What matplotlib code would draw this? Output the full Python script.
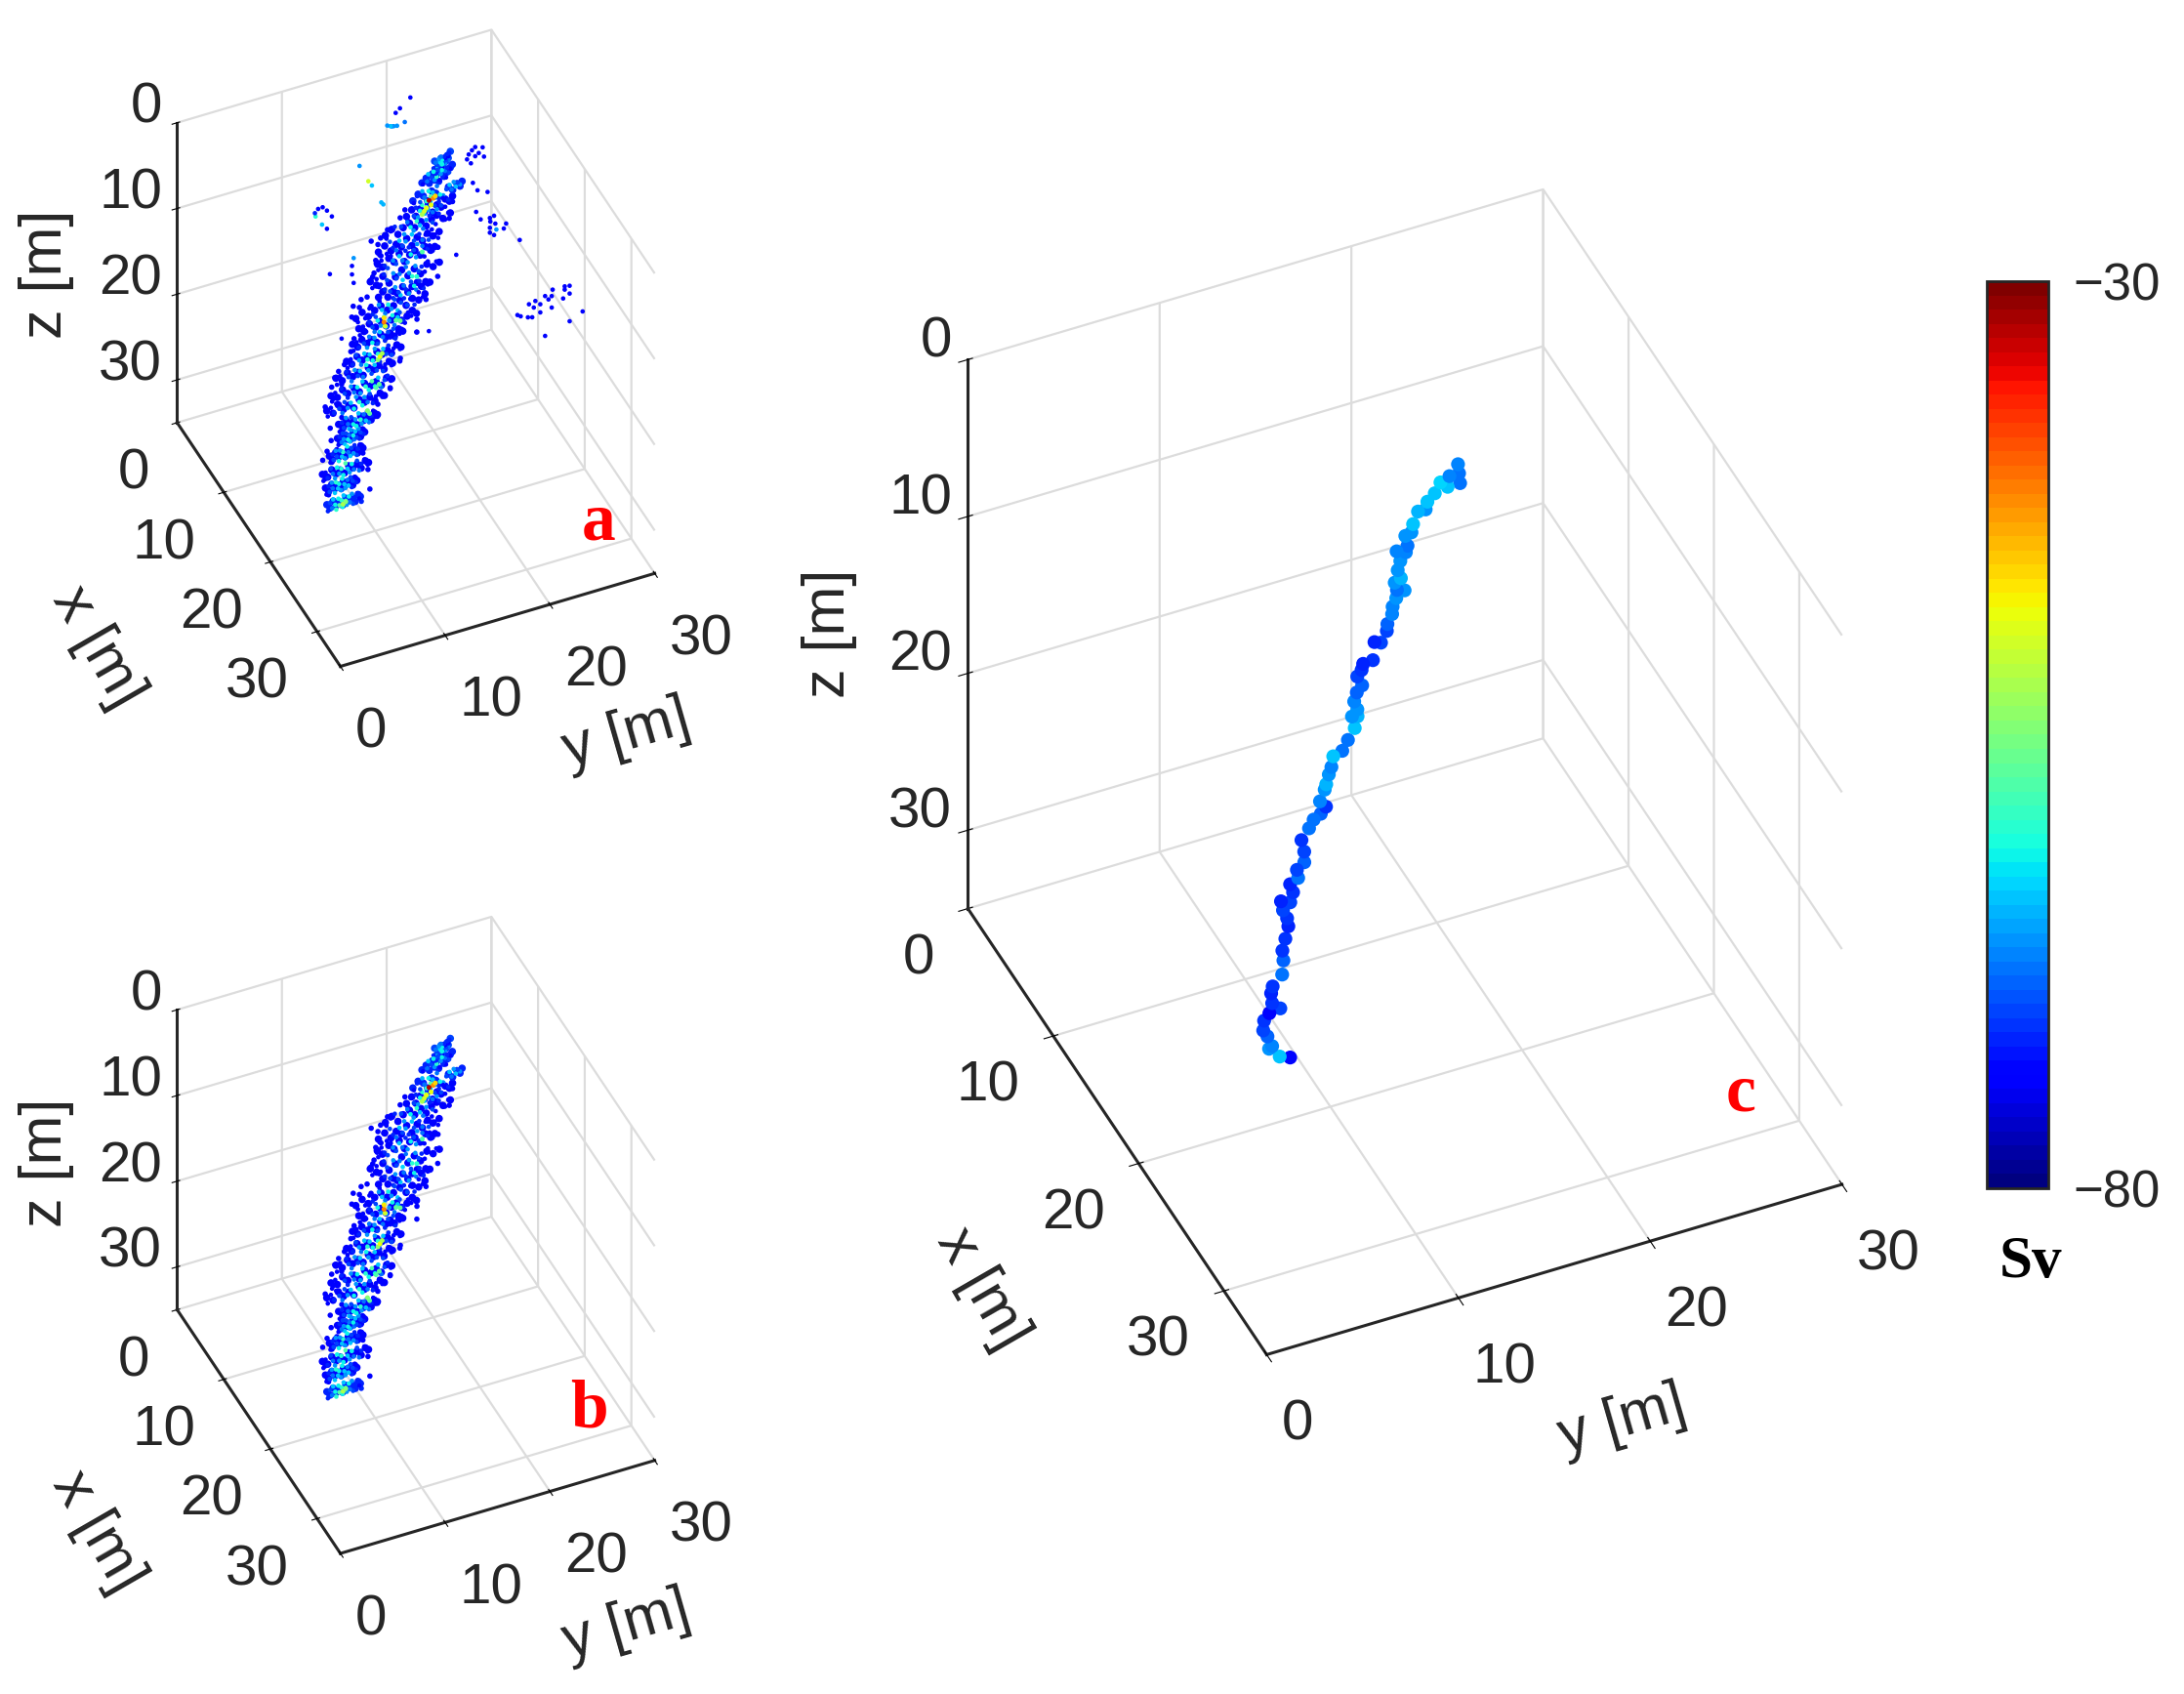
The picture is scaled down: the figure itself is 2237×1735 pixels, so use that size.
import numpy as np
import matplotlib
matplotlib.use('Agg')
import matplotlib.pyplot as plt
from matplotlib.cm import ScalarMappable
from matplotlib.colors import Normalize

# echo school, depth bands
band_x = [12.3, 12.5, 12.8, 13.0, 13.2, 13.5, 13.7, 14.0, 14.2, 14.5, 14.7,
          14.9, 15.2, 15.4, 15.7, 15.9, 16.2, 16.4, 16.7, 17.0, 17.2, 17.5]
cloud_y = [
    [19.0, 19.2, 19.3, 19.4, 19.5, 19.5, 19.6, 19.7, 19.7, 19.8, 19.8, 19.9, 20.0, 20.1, 20.1, 20.2, 20.3, 20.4, 20.5, 20.4],
    [17.9, 18.1, 18.3, 18.4, 18.6, 18.7, 18.9, 19.0, 19.1, 19.2, 19.3, 19.5, 19.6, 19.7, 19.8, 20.0, 20.1, 20.2, 20.4, 20.5],
    [16.9, 17.2, 17.5, 17.7, 17.9, 18.1, 18.3, 18.5, 18.7, 18.9, 19.1, 19.4, 19.7, 20.0, 20.3, 20.5, 20.7, 20.9, 21.1, 21.3],
    [16.2, 16.5, 16.8, 17.0, 17.2, 17.4, 17.6, 17.8, 18.0, 18.2, 18.4, 18.6, 18.8, 19.0, 19.2, 19.4, 19.6, 19.8, 20.1, 20.4],
    [14.1, 14.5, 14.9, 15.2, 15.5, 15.8, 16.1, 16.4, 16.7, 17.0, 17.3, 17.6, 17.9, 18.2, 18.5, 18.8, 19.1, 19.4, 19.7, 20.0],
    [13.3, 13.7, 14.0, 14.3, 14.6, 14.9, 15.2, 15.5, 15.8, 16.1, 16.4, 16.6, 16.9, 17.1, 17.4, 17.7, 18.0, 18.3, 18.6, 18.9],
    [13.1, 13.4, 13.7, 14.0, 14.3, 14.5, 14.8, 15.1, 15.4, 15.7, 15.9, 16.2, 16.5, 16.7, 17.0, 17.3, 17.5, 17.8, 18.0, 18.3],
    [12.4, 12.8, 13.2, 13.5, 13.8, 14.1, 14.4, 14.7, 15.0, 15.3, 15.6, 15.9, 16.2, 16.5, 16.8, 17.1, 17.4, 17.7, 18.1, 18.5],
    [13.0, 13.3, 13.5, 13.8, 14.0, 14.3, 14.5, 14.8, 15.0, 15.3, 15.5, 15.8, 16.0, 16.3, 16.5, 16.8, 17.0, 17.2, 17.4, 17.6],
    [10.8, 11.2, 11.5, 11.9, 12.2, 12.5, 12.8, 13.1, 13.4, 13.7, 14.0, 14.3, 14.6, 14.9, 15.2, 15.5, 15.8, 16.2, 16.6, 17.0],
    [10.9, 11.2, 11.5, 11.8, 12.1, 12.3, 12.6, 12.9, 13.2, 13.4, 13.7, 14.0, 14.2, 14.5, 14.7, 15.0, 15.2, 15.5, 15.8, 16.1],
    [10.2, 10.5, 10.7, 11.0, 11.2, 11.5, 11.7, 12.0, 12.2, 12.5, 12.7, 13.0, 13.2, 13.5, 13.7, 14.0, 14.2, 14.4, 14.6, 14.8],
    [9.5, 9.8, 10.0, 10.3, 10.6, 10.8, 11.1, 11.4, 11.6, 11.9, 12.1, 12.4, 12.6, 12.9, 13.2, 13.4, 13.7, 13.9, 14.2, 14.5],
    [8.4, 8.7, 9.0, 9.3, 9.5, 9.8, 10.1, 10.4, 10.6, 10.9, 11.2, 11.4, 11.7, 12.0, 12.2, 12.5, 12.8, 13.0, 13.3, 13.6],
    [7.8, 8.1, 8.4, 8.7, 9.0, 9.3, 9.6, 9.9, 10.2, 10.5, 10.7, 11.0, 11.3, 11.6, 11.9, 12.2, 12.5, 12.8, 13.1, 13.4],
    [7.3, 7.6, 7.9, 8.1, 8.4, 8.7, 8.9, 9.2, 9.5, 9.8, 10.0, 10.3, 10.6, 10.8, 11.1, 11.3, 11.6, 11.9, 12.2, 12.5],
    [8.3, 8.5, 8.7, 8.9, 9.1, 9.2, 9.4, 9.6, 9.8, 9.9, 10.1, 10.3, 10.4, 10.6, 10.8, 10.9, 11.1, 11.3, 11.5, 11.7],
    [8.1, 8.2, 8.4, 8.5, 8.6, 8.7, 8.8, 9.0, 9.1, 9.2, 9.3, 9.5, 9.6, 9.7, 9.8, 10.0, 10.1, 10.2, 10.4, 10.5],
    [7.2, 7.4, 7.5, 7.7, 7.8, 8.0, 8.1, 8.3, 8.4, 8.6, 8.8, 8.9, 9.1, 9.2, 9.4, 9.5, 9.7, 9.8, 10.0, 10.2],
    [6.4, 6.6, 6.8, 7.1, 7.3, 7.5, 7.7, 7.9, 8.1, 8.3, 8.5, 8.7, 8.9, 9.1, 9.3, 9.6, 9.8, 10.0, 10.3, 10.6],
    [6.6, 6.8, 6.9, 7.1, 7.2, 7.4, 7.5, 7.7, 7.8, 8.0, 8.1, 8.3, 8.4, 8.6, 8.7, 8.9, 9.0, 9.1, 9.3, 9.4],
    [6.6, 6.8, 7.0, 7.1, 7.3, 7.4, 7.6, 7.7, 7.9, 8.0, 8.1, 8.3, 8.4, 8.6, 8.7, 8.9, 9.0, 9.2, 9.4, 9.6],
]
cloud_z = [
    [2.2, 1.6, 2.4, 1.9, 1.3, 2.5, 1.7, 2.1, 1.1, 2.4, 1.5, 1.9, 1.2, 2.0, 1.4, 1.7, 1.0, 1.3, 0.9, 1.7],
    [3.5, 2.8, 3.3, 2.5, 3.7, 3.0, 2.4, 3.4, 2.7, 3.1, 2.3, 3.6, 2.9, 2.5, 3.2, 2.7, 3.5, 2.4, 3.0, 2.6],
    [5.1, 4.4, 5.2, 4.0, 4.8, 5.3, 4.2, 4.9, 4.5, 5.2, 3.9, 5.0, 5.2, 4.6, 4.2, 4.8, 4.0, 4.6, 4.2, 4.5],
    [6.6, 5.7, 6.4, 5.5, 6.7, 6.0, 5.4, 6.5, 5.8, 6.2, 5.3, 6.6, 5.9, 6.4, 5.6, 6.1, 5.3, 6.4, 5.7, 5.5],
    [7.9, 7.2, 6.8, 7.7, 7.0, 8.0, 6.7, 7.4, 7.9, 6.9, 7.5, 8.0, 7.1, 6.7, 7.6, 7.9, 6.8, 7.3, 7.7, 7.0],
    [9.3, 8.4, 9.4, 8.1, 8.9, 9.3, 8.3, 9.0, 8.6, 9.4, 8.0, 8.8, 9.3, 8.2, 9.0, 8.5, 9.2, 8.1, 8.8, 9.3],
    [10.8, 9.8, 10.5, 10.9, 9.6, 10.2, 10.7, 9.9, 10.5, 9.5, 10.9, 10.1, 9.7, 10.6, 10.3, 9.5, 10.8, 10.0, 9.7, 10.4],
    [12.4, 11.5, 12.3, 11.2, 12.0, 12.5, 11.4, 12.1, 11.7, 12.5, 11.1, 11.9, 12.4, 11.3, 12.0, 11.6, 12.3, 11.2, 11.9, 11.5],
    [14.0, 13.1, 12.8, 13.8, 13.2, 14.1, 12.9, 13.6, 14.0, 13.0, 13.5, 14.1, 12.8, 13.4, 13.9, 13.0, 13.6, 14.0, 13.2, 13.7],
    [15.4, 14.5, 15.2, 14.2, 15.0, 15.4, 14.1, 14.8, 15.3, 14.4, 15.0, 14.0, 15.4, 14.6, 14.2, 15.1, 14.5, 15.3, 14.0, 14.7],
    [16.8, 15.9, 16.6, 15.6, 16.3, 16.9, 15.7, 16.4, 15.5, 16.7, 16.1, 15.6, 16.8, 16.0, 15.5, 16.5, 16.9, 15.8, 16.3, 15.9],
    [18.2, 17.3, 18.0, 17.0, 17.7, 18.3, 17.1, 17.9, 17.4, 18.2, 16.9, 17.6, 18.1, 17.2, 17.9, 17.0, 18.2, 17.5, 17.8, 17.3],
    [19.7, 18.8, 19.5, 18.5, 19.2, 19.8, 18.6, 19.4, 18.9, 19.7, 18.4, 19.1, 19.6, 18.7, 19.4, 18.5, 19.7, 19.0, 18.6, 19.3],
    [21.1, 20.2, 20.9, 19.9, 20.6, 21.2, 20.0, 20.8, 20.3, 21.1, 19.8, 20.5, 21.0, 20.1, 20.8, 19.9, 21.1, 20.4, 20.0, 20.7],
    [22.6, 21.7, 22.4, 21.4, 22.1, 22.7, 21.5, 22.3, 21.8, 22.6, 21.3, 22.0, 22.5, 21.6, 22.3, 21.4, 22.6, 21.9, 21.5, 22.2],
    [24.0, 23.1, 23.8, 22.8, 23.5, 24.1, 22.9, 23.7, 23.2, 24.0, 22.7, 23.4, 23.9, 23.0, 23.7, 22.8, 24.0, 23.3, 22.9, 23.6],
    [25.9, 24.9, 25.6, 24.5, 25.3, 25.9, 24.6, 25.5, 25.0, 25.8, 24.4, 25.2, 25.7, 24.7, 25.5, 24.5, 25.8, 25.1, 24.6, 25.4],
    [27.2, 26.3, 27.0, 26.0, 26.7, 27.3, 26.1, 26.9, 26.4, 27.2, 25.9, 26.6, 27.1, 26.2, 26.9, 26.0, 27.2, 26.5, 26.1, 26.8],
    [28.7, 27.8, 28.5, 27.5, 28.2, 28.8, 27.6, 28.4, 27.9, 28.7, 27.4, 28.1, 28.6, 27.7, 28.4, 27.5, 28.7, 28.0, 27.6, 28.3],
    [30.3, 29.4, 30.1, 29.1, 29.8, 30.4, 29.2, 30.0, 29.5, 30.3, 29.0, 29.7, 30.2, 29.3, 30.0, 29.1, 30.3, 29.6, 29.2, 29.9],
    [31.8, 30.9, 31.6, 30.6, 31.3, 31.9, 30.7, 31.5, 31.0, 31.8, 30.5, 31.2, 31.7, 30.8, 31.5, 30.6, 31.8, 31.1, 30.7, 31.4],
    [33.5, 32.6, 33.3, 32.3, 33.0, 33.6, 32.4, 33.2, 32.7, 33.5, 32.2, 32.9, 33.4, 32.5, 33.2, 32.3, 33.5, 32.8, 32.4, 33.1],
]
cloud_sv = [
    [-72, -68, -62, -70, -66, -72, -63, -70, -68, -73, -62, -70, -72, -66, -73, -70, -72, -73, -72, -68],
    [-73, -72, -68, -64, -72, -70, -62, -66, -72, -60, -70, -73, -66, -62, -72, -68, -73, -72, -70, -73],
    [-73, -72, -70, -65, -68, -60, -62, -58, -64, -66, -68, -62, -66, -70, -64, -68, -66, -64, -70, -66],
    [-73, -73, -70, -72, -66, -62, -60, -64, -62, -66, -64, -68, -70, -66, -72, -70, -73, -73, -72, -73],
    [-74, -73, -72, -73, -70, -66, -68, -62, -66, -60, -64, -68, -66, -72, -70, -73, -72, -73, -74, -73],
    [-74, -73, -73, -70, -72, -68, -64, -70, -66, -72, -64, -70, -66, -72, -68, -73, -70, -73, -74, -73],
    [-74, -73, -72, -70, -73, -66, -70, -64, -68, -72, -66, -62, -70, -66, -72, -68, -73, -72, -74, -73],
    [-74, -74, -73, -72, -70, -73, -66, -70, -68, -63, -68, -66, -60, -66, -70, -72, -73, -73, -74, -74],
    [-74, -73, -72, -73, -70, -72, -66, -70, -64, -68, -72, -66, -70, -62, -68, -72, -73, -72, -74, -73],
    [-74, -74, -73, -73, -72, -70, -66, -64, -68, -62, -66, -70, -64, -70, -72, -70, -73, -72, -74, -74],
    [-74, -73, -73, -72, -70, -68, -62, -66, -60, -64, -66, -62, -68, -64, -70, -72, -73, -73, -74, -73],
    [-74, -73, -72, -73, -70, -66, -68, -62, -66, -70, -64, -68, -72, -70, -73, -70, -72, -73, -74, -73],
    [-74, -73, -72, -70, -66, -68, -64, -60, -64, -62, -66, -60, -68, -64, -70, -72, -70, -73, -74, -73],
    [-74, -74, -73, -72, -70, -68, -66, -70, -64, -68, -62, -66, -70, -64, -70, -72, -70, -73, -74, -73],
    [-74, -73, -73, -72, -70, -72, -66, -68, -62, -66, -64, -60, -62, -58, -62, -64, -68, -70, -72, -73],
    [-74, -73, -72, -73, -70, -68, -70, -66, -64, -62, -66, -60, -62, -66, -68, -70, -72, -73, -74, -73],
    [-74, -72, -70, -66, -68, -64, -70, -62, -66, -62, -64, -60, -66, -68, -64, -70, -68, -72, -73, -73],
    [-73, -72, -68, -70, -66, -64, -70, -62, -68, -64, -66, -62, -68, -64, -70, -66, -72, -70, -73, -72],
    [-73, -72, -70, -66, -70, -62, -66, -64, -60, -66, -62, -68, -64, -70, -66, -72, -70, -72, -73, -73],
    [-74, -73, -72, -70, -68, -66, -62, -66, -60, -62, -58, -64, -66, -62, -68, -70, -68, -72, -73, -73],
    [-73, -72, -70, -66, -68, -64, -60, -64, -62, -66, -62, -64, -66, -68, -64, -70, -72, -70, -73, -72],
    [-72, -70, -68, -64, -62, -60, -62, -58, -60, -62, -64, -60, -66, -62, -68, -66, -70, -72, -72, -73],
]

# weaker echoes filling the body of the school, one level per band
fill_y = [
    [19.1, 19.3, 19.4, 19.6, 19.7, 19.8, 19.9, 20.0, 20.2, 20.3, 20.4, 20.6],
    [17.8, 18.2, 18.5, 18.8, 19.0, 19.2, 19.4, 19.7, 19.9, 20.2, 20.5, 20.7],
    [16.8, 17.3, 17.8, 18.2, 18.6, 19.0, 19.3, 20.2, 20.6, 21.0, 21.3, 21.5],
    [16.1, 16.6, 17.0, 17.4, 17.8, 18.2, 18.6, 19.0, 19.4, 19.8, 20.2, 20.5],
    [14.0, 14.6, 15.2, 15.7, 16.3, 16.8, 17.4, 17.9, 18.4, 18.9, 19.5, 20.2],
    [13.2, 13.8, 14.4, 14.9, 15.4, 15.9, 16.4, 16.9, 17.4, 17.9, 18.4, 19.0],
    [13.0, 13.5, 14.1, 14.6, 15.1, 15.6, 16.1, 16.6, 17.1, 17.6, 18.1, 18.5],
    [12.2, 12.8, 13.4, 14.0, 14.6, 15.2, 15.8, 16.4, 17.0, 17.6, 18.2, 18.8],
    [12.9, 13.3, 13.8, 14.3, 14.7, 15.2, 15.7, 16.1, 16.6, 17.0, 17.4, 17.8],
    [10.6, 11.2, 11.8, 12.4, 13.0, 13.6, 14.2, 14.8, 15.4, 16.0, 16.6, 17.2],
    [10.8, 11.3, 11.8, 12.4, 12.9, 13.4, 13.9, 14.4, 14.9, 15.4, 15.9, 16.3],
    [10.1, 10.6, 11.0, 11.5, 11.9, 12.4, 12.8, 13.3, 13.7, 14.1, 14.5, 14.9],
    [9.4, 9.9, 10.4, 10.9, 11.4, 11.9, 12.3, 12.8, 13.3, 13.7, 14.2, 14.6],
    [8.3, 8.9, 9.4, 9.9, 10.4, 10.9, 11.4, 11.9, 12.4, 12.9, 13.4, 13.7],
    [7.7, 8.3, 8.8, 9.3, 9.9, 10.4, 10.9, 11.5, 12.0, 12.5, 13.0, 13.5],
    [7.2, 7.8, 8.3, 8.8, 9.3, 9.8, 10.3, 10.8, 11.3, 11.8, 12.3, 12.7],
    [8.2, 8.6, 8.9, 9.3, 9.6, 10.0, 10.3, 10.6, 11.0, 11.3, 11.6, 11.9],
    [8.0, 8.3, 8.5, 8.8, 9.0, 9.2, 9.5, 9.7, 9.9, 10.2, 10.4, 10.6],
    [7.1, 7.4, 7.7, 8.0, 8.3, 8.6, 8.9, 9.2, 9.5, 9.8, 10.1, 10.3],
    [6.3, 6.8, 7.2, 7.6, 8.0, 8.4, 8.8, 9.2, 9.6, 10.0, 10.4, 10.7],
    [6.5, 6.8, 7.1, 7.4, 7.7, 8.0, 8.2, 8.5, 8.8, 9.1, 9.3, 9.5],
    [6.5, 6.8, 7.1, 7.4, 7.7, 8.0, 8.3, 8.6, 8.9, 9.2, 9.5, 9.7],
]
fill_z = [
    [1.4, 2.3, 1.8, 2.4, 1.3, 1.9, 2.2, 1.5, 1.8, 1.2, 1.5, 0.8],
    [3.3, 2.9, 3.6, 2.6, 3.4, 2.8, 3.7, 2.6, 3.3, 2.9, 2.5, 2.2],
    [4.8, 4.2, 4.6, 5.3, 4.3, 4.7, 5.2, 4.4, 4.9, 4.3, 4.7, 4.2],
    [6.2, 5.6, 6.5, 5.8, 6.3, 5.5, 6.6, 5.9, 6.3, 5.5, 5.9, 5.4],
    [7.5, 7.0, 7.8, 7.2, 6.9, 7.6, 7.1, 7.8, 7.2, 6.9, 7.5, 7.1],
    [8.9, 8.4, 9.2, 8.6, 9.1, 8.3, 9.3, 8.5, 9.1, 8.4, 8.9, 8.6],
    [10.0, 10.6, 9.8, 10.4, 9.6, 10.7, 10.1, 9.8, 10.5, 9.7, 10.3, 10.0],
    [11.6, 12.2, 11.4, 12.4, 11.9, 11.3, 12.2, 11.6, 12.4, 11.5, 12.0, 11.7],
    [13.5, 13.0, 13.8, 13.3, 13.7, 13.1, 13.9, 13.4, 13.1, 13.7, 13.3, 13.5],
    [14.9, 14.4, 15.1, 14.6, 14.3, 15.0, 14.7, 14.3, 15.1, 14.5, 14.9, 14.4],
    [16.0, 16.5, 15.8, 16.4, 15.9, 16.6, 16.1, 15.8, 16.5, 16.2, 15.7, 16.2],
    [17.4, 17.9, 17.2, 17.8, 17.5, 18.0, 17.2, 17.7, 17.4, 17.9, 17.2, 17.6],
    [18.9, 19.4, 18.7, 19.3, 19.0, 19.5, 18.8, 19.3, 19.0, 19.5, 18.7, 19.1],
    [20.3, 20.8, 20.1, 20.7, 20.4, 20.9, 20.2, 20.6, 20.3, 20.9, 20.2, 20.5],
    [21.9, 22.3, 21.6, 22.2, 21.8, 22.4, 21.6, 22.1, 21.8, 22.4, 21.7, 22.0],
    [23.3, 23.8, 23.0, 23.7, 23.4, 23.9, 23.1, 23.6, 23.2, 23.8, 23.1, 23.5],
    [25.0, 25.6, 24.8, 25.4, 25.1, 25.7, 24.8, 25.4, 25.0, 25.6, 24.9, 25.2],
    [26.4, 26.9, 26.2, 26.8, 26.5, 27.0, 26.3, 26.8, 26.5, 27.0, 26.3, 26.6],
    [27.9, 28.4, 27.7, 28.3, 28.0, 28.5, 27.8, 28.2, 28.0, 28.5, 27.8, 28.1],
    [29.5, 30.0, 29.3, 29.9, 29.6, 30.1, 29.4, 29.8, 29.5, 30.1, 29.4, 29.7],
    [31.0, 31.5, 30.8, 31.4, 31.1, 31.6, 30.9, 31.3, 31.0, 31.6, 30.9, 31.2],
    [32.7, 33.2, 32.5, 33.1, 32.8, 33.3, 32.6, 33.0, 32.7, 33.3, 32.6, 32.9],
]
fill_sv = [-70, -72, -72, -73, -74, -74, -74, -74, -74, -74, -74,
           -74, -74, -74, -74, -74, -73, -73, -73, -74, -73, -72]

# stragglers and the outline of the school, left side then right side
edge_x = [13.3, 13.6, 13.9, 14.1, 14.2, 14.3, 14.4, 14.3, 14.2, 15.8, 16.2, 16.4, 16.6, 16.7, 17.4, 16.0, 15.8,
          12.9, 13.0, 13.2, 13.3, 13.4, 13.6, 13.7, 13.8, 13.9, 14.2, 14.4, 14.5, 14.7, 14.8, 15.0, 15.2,
          15.3, 15.4, 15.5, 15.5, 15.7, 15.9, 16.1, 16.2, 16.4, 16.6, 16.8, 17.0, 17.3, 17.5,
          13.0, 13.3, 13.7, 14.2, 14.5, 14.8, 15.0, 15.4, 15.4, 15.8, 16.2, 16.8, 17.1, 17.6]
edge_y = [12.6, 12.9, 12.48, 13.0, 11.24, 10.44, 10.26, 11.03, 11.81, 7.1, 7.4, 7.4, 6.92, 6.46, 10.65, 12.03, 13.3,
          16.0, 15.5, 14.2, 13.5, 13.2, 13.4, 13.0, 12.65, 12.3, 13.4, 12.1, 11.7, 10.9, 10.3, 9.9, 9.2,
          8.6, 8.2, 8.8, 7.85, 7.9, 8.6, 8.55, 8.8, 8.85, 7.85, 7.3, 6.56, 6.75, 7.3,
          20.5, 20.05, 18.8, 18.55, 17.3, 16.3, 16.2, 14.45, 14.4, 13.3, 11.9, 10.25, 10.6, 9.74]
edge_z = [7.57, 9.68, 11.2, 12.37, 13.16, 13.57, 14.69, 13.93, 13.07, 22.9, 25.16, 26.44, 27.36, 28.15, 32.46, 24.2, 23.0,
          5.47, 6.14, 6.9, 7.53, 8.1, 9.33, 10.2, 10.9, 11.5, 13.0, 14.1, 15.0, 16.05, 16.9, 18.1, 19.2,
          19.7, 20.2, 21.1, 21.1, 22.3, 23.4, 24.4, 25.4, 26.5, 27.5, 28.6, 30.1, 31.8, 32.8,
          6.05, 7.6, 10.2, 13.1, 15.1, 16.8, 18.1, 20.2, 20.5, 22.9, 25.4, 28.6, 30.4, 33.4]
edge_sv = [-74, -74, -74, -73, -74, -74, -74, -74, -73, -74, -74, -74, -74, -74, -74, -74, -74,
           -74, -74, -73, -74, -74, -73, -74, -74, -74, -73, -74, -74, -74, -74, -73, -74,
           -74, -74, -73, -74, -74, -73, -74, -74, -73, -74, -74, -74, -73, -72,
           -73, -74, -74, -73, -74, -74, -73, -74, -74, -74, -73, -74, -74, -72]

# strongest echoes inside the school
hot_x = [12.9, 12.9, 12.9, 13.0, 13.0, 13.0, 13.1, 14.7, 14.7, 14.7, 14.8, 14.8, 15.2, 15.2, 15.2,
         15.7, 15.7, 16.1, 16.1, 17.5, 17.5, 14.1, 13.7, 12.3]
hot_y = [18.7, 18.3, 18.9, 17.8, 17.6, 18.0, 18.4, 13.2, 13.2, 13.3, 14.7, 14.3, 12.6, 12.4, 12.8,
         12.3, 12.0, 11.0, 11.2, 8.05, 8.3, 16.6, 17.3, 19.8]
hot_z = [5.1, 5.2, 4.9, 6.2, 6.5, 5.9, 5.6, 16.1, 15.6, 16.6, 16.4, 16.2, 19.5, 19.8, 19.2,
         22.2, 22.5, 24.5, 24.9, 33.2, 33.0, 12.5, 10.2, 2.0]
hot_sv = [-42, -33, -46, -50, -52, -48, -48, -41, -47, -50, -56, -57, -48, -54, -52,
          -57, -58, -55, -57, -52, -55, -60, -58, -62]

# scattered echoes only present in panel a
out_x = [2, 2, 2, 2, 2, 2, 2, 2, 2, 2, 2, 2, 2, 2, 2, 2, 2, 2, 2, 2, 2, 2, 2, 2, 2, 2, 2, 2, 2,
         6, 6, 8, 14, 14, 14, 14, 14, 14, 14, 14, 14, 14, 14, 14, 14, 14, 14, 18, 18, 18, 18, 18, 22, 18,
         2, 2, 2, 2, 2, 2, 2, 2, 2, 2, 2, 2, 2, 2, 2, 2, 2, 2, 2, 2, 2, 2, 2, 2]
out_y = [21.37, 20.38, 19.97, 20.84, 19.78, 19.47, 19.17, 28.27, 27.56, 27.25, 26.94, 27.56, 26.78, 27.15,
         27.34, 27.78, 28.74, 27.65, 28.08, 28.96, 29.36, 29.48, 28.96, 29.58, 28.96, 29.36, 16.52, 17.36, 17.7,
         28.73, 28.51, 29.14, 26.25, 26.56, 27.25, 27.66, 27.35, 27.96, 27.81, 28.43, 28.43, 28.89, 29.21, 29.61, 29.52,
         29.52, 28.89, 28.98, 29.45, 28.98, 29.45, 28.83, 28.91, 29.45,
         18.6, 18.79, 12.32, 12.26, 12.57, 13.0, 13.41, 13.88, 12.94, 13.41, 25.75, 15.96, 13.69, 15.8, 15.8, 15.96,
         14.81, 23.14, 21.96, 19.6, 20.1, 27.9, 28.4, 29.0]
out_z = [3.16, 4.06, 4.45, 5.83, 5.93, 5.82, 5.64, 11.47, 11.18, 11.45, 11.82, 12.25, 12.34, 12.93,
         15.28, 16.31, 16.85, 18.78, 19.81, 19.97, 19.85, 20.81, 21.11, 21.53, 21.68, 22.1, 9.39, 11.48, 12.1,
         17.28, 17.78, 17.72, 20.56, 20.82, 21.19, 21.33, 19.7, 19.54, 20.25, 20.09, 21.04, 19.3, 19.81, 18.81, 19.53,
         20.87, 23.95, 14.95, 15.05, 15.33, 15.96, 16.31, 14.6, 19.19,
         14.4, 14.7, 13.77, 13.36, 12.98, 12.94, 13.48, 14.33, 14.94, 15.6, 23.1, 19.94, 20.99, 20.8, 21.79, 22.84,
         28.92, 31.06, 30.74, 5.9, 6.0, 12.0, 12.6, 20.4]
out_sv = [-74, -74, -74, -68, -66, -64, -66, -74, -74, -74, -74, -74, -74, -74,
          -74, -74, -74, -74, -74, -74, -74, -74, -74, -66, -74, -74, -66, -50, -64,
          -74, -74, -74, -73, -73, -74, -74, -74, -74, -74, -73, -73, -74, -74, -74, -74,
          -74, -73, -74, -74, -74, -74, -74, -74, -73,
          -65, -65, -60, -72, -74, -74, -74, -74, -64, -74, -74, -66, -74, -74, -74, -73,
          -74, -74, -74, -66, -66, -74, -74, -74]

# mean track, panel c
track_x = [12.6, 12.7, 12.8, 12.7, 12.8, 12.7, 12.8, 12.9, 12.9, 12.9, 13.0, 13.1, 13.1, 13.2, 13.3, 13.2, 13.3, 13.4, 13.5, 13.5,
           13.6, 13.6, 13.7, 13.7, 13.8, 13.9, 13.9, 14.0, 14.0, 14.2, 14.2, 14.2, 14.3, 14.4, 14.4, 14.5, 14.6, 14.6, 14.6, 14.7,
           14.8, 14.9, 14.9, 15.0, 15.1, 15.2, 15.2, 15.3, 15.4, 15.4, 15.5, 15.5, 15.6, 15.7, 15.8, 15.9, 16.0, 16.0, 16.1, 16.2,
           16.1, 16.2, 16.3, 16.4, 16.5, 16.6, 16.7, 16.8, 16.9, 16.9, 17.0, 17.1, 17.1, 17.2, 17.3, 17.3, 17.4, 17.4, 17.5, 17.6]
track_y = [19.95, 19.96, 19.97, 19.46, 19.32, 18.99, 18.65, 18.22, 18.13, 17.73, 17.43, 17.30, 16.98, 17.05, 16.92, 16.48, 16.63, 16.45, 16.57, 16.25,
           16.32, 16.72, 16.24, 16.05, 15.98, 15.69, 15.66, 15.31, 14.97, 14.80, 14.29, 14.21, 13.94, 14.15, 13.87, 13.69, 13.81, 13.53, 13.82, 13.63,
           13.23, 12.89, 12.42, 12.28, 12.10, 11.92, 11.84, 11.55, 11.82, 11.55, 11.13, 10.89, 10.45, 10.55, 10.51, 10.08, 10.10, 9.68, 9.79, 9.60,
           9.16, 9.22, 9.39, 9.41, 9.21, 9.01, 9.02, 8.91, 8.37, 8.29, 8.30, 8.68, 8.11, 7.79, 7.70, 7.92, 8.12, 7.96, 8.47, 8.97]
track_z = [3.65, 4.15, 4.70, 4.15, 4.70, 4.38, 4.87, 5.17, 5.63, 5.62, 6.23, 6.63, 6.74, 7.31, 7.60, 7.46, 8.05, 8.49, 8.96, 9.13,
           9.54, 9.71, 9.95, 10.43, 10.79, 11.24, 11.67, 12.21, 12.05, 12.98, 13.03, 13.39, 13.63, 14.19, 14.54, 14.97, 15.44, 15.79, 15.88, 16.48,
           17.01, 17.50, 17.68, 18.23, 18.56, 19.04, 19.35, 19.91, 20.27, 20.62, 20.76, 21.23, 21.74, 22.43, 23.01, 23.26, 23.70, 23.95, 24.42, 24.91,
           24.77, 25.28, 25.77, 26.21, 26.85, 27.45, 28.00, 28.78, 29.26, 29.67, 30.22, 30.61, 30.71, 30.99, 31.50, 31.96, 32.57, 32.68, 33.28, 33.44]
track_sv = [-67, -68, -68, -67, -64, -63, -64, -64, -66, -65, -64, -66, -66, -68, -67, -67, -66, -66, -65, -66,
            -68, -66, -66, -67, -67, -69, -70, -70, -72, -71, -72, -71, -70, -69, -69, -67, -66, -66, -65, -64,
            -68, -68, -64, -67, -66, -65, -66, -67, -71, -69, -68, -68, -71, -70, -69, -70, -68, -72, -71, -70,
            -72, -70, -71, -72, -71, -71, -69, -68, -71, -72, -71, -70, -73, -71, -70, -69, -67, -66, -64, -73]

xticks = [0, 10, 20, 30]
yticks = [0, 10, 20, 30]
zticks = [0, 10, 20, 30]
sv_limits = [-80, -30]

plt.rcParams['font.family'] = ['Liberation Sans', 'DejaVu Sans']
plt.rcParams['grid.color'] = '#dcdcdc'
plt.rcParams['grid.linewidth'] = 1.6
W, H = 2237, 1735
INK = '#262626'
jet = plt.get_cmap('jet', 64)
norm = Normalize(sv_limits[0], sv_limits[1])

fig = plt.figure(figsize=(W / 100, H / 100), dpi=100)


def shift_labels(axis, ha, dx, dy, side):
    '''mplot3d resets the tick label transform on every draw and only has pad,
    so wrap set_position and add the shift there (0.185 is the width of the 3d view)'''
    for tick in axis.get_major_ticks():
        label = tick.label1
        label.set_ha(ha)

        def moved(xy, orig=label.set_position):
            orig((xy[0] + dx * 0.185 / side, xy[1] + dy * 0.185 / side))

        label.set_position = moved


def make_box(cx, cy, side, x_shift, y_shift, z_shift):
    '''3d axes in ortho view, (cx, cy) is the pixel where the box centre should land'''
    left = (cx - 0.5135 * side) / W
    bottom = (H - cy - 0.5135 * side) / H
    ax = fig.add_axes([left, bottom, side / W, side / H], projection='3d', proj_type='ortho')
    ax.patch.set_alpha(0)
    ax.computed_zorder = False
    ax.view_init(elev=41.65, azim=-24)
    ax.set_box_aspect((35, 30, 35))
    ax.set_xlim(0, 35, view_margin=0)
    ax.set_ylim(0, 30, view_margin=0)
    ax.set_zlim(35, 0, view_margin=0)
    ax.set_xticks(xticks)
    ax.set_yticks(yticks)
    ax.set_zticks(zticks)
    ax.zaxis.set_ticks_position('lower')
    for axis in (ax.xaxis, ax.yaxis, ax.zaxis):
        axis.set_pane_color((1, 1, 1, 0))
        axis.pane.set_edgecolor((1, 1, 1, 0))
        axis.line.set_color(INK)
        axis.line.set_linewidth(2.2)
        axis.set_tick_params(labelsize=42, labelcolor=INK, pad=14)
        axis._axinfo['tick']['color'] = INK
    shift_labels(ax.xaxis, 'right', *x_shift, side)
    shift_labels(ax.yaxis, 'left', *y_shift, side)
    shift_labels(ax.zaxis, 'right', *z_shift, side)
    return ax


def stack_bands(rows):
    return np.concatenate(rows)


all_x = np.concatenate([np.repeat(v, len(r)) for v, r in zip(band_x, cloud_y)])
fill_xs = np.concatenate([np.repeat(v, len(r)) for v, r in zip(band_x, fill_y)])
fill_svs = np.concatenate([np.repeat(v, len(r)) for v, r in zip(fill_sv, fill_y)])

ax_a = make_box(426, 356.5, 660, (0, 10), (0, 8.5), (28, 28))
ax_b = make_box(426, 1265, 660, (0, 10), (0, 8.5), (28, 28))
ax_c = make_box(1439, 790.7, 1208, (-6, 11), (0, 4), (27, 31))

for ax in (ax_a, ax_b):
    ax.scatter(fill_xs, stack_bands(fill_y), stack_bands(fill_z), c=fill_svs, cmap=jet, norm=norm,
               s=30, depthshade=False, linewidths=0, zorder=2)
    ax.scatter(edge_x, edge_y, edge_z, c=edge_sv, cmap=jet, norm=norm, s=16, depthshade=False,
               linewidths=0, zorder=2)
    ax.scatter(all_x, stack_bands(cloud_y), stack_bands(cloud_z), c=stack_bands(cloud_sv), cmap=jet, norm=norm,
               s=11, depthshade=False, linewidths=0, zorder=3)
    ax.scatter(hot_x, hot_y, hot_z, c=hot_sv, cmap=jet, norm=norm, s=13, depthshade=False, linewidths=0, zorder=4)
ax_a.scatter(out_x, out_y, out_z, c=out_sv, cmap=jet, norm=norm, s=11, depthshade=False, linewidths=0, zorder=2)
ax_c.scatter(track_x, track_y, track_z, c=track_sv, cmap=jet, norm=norm, s=105, depthshade=False, linewidths=0, zorder=2)

# axis names
for names in [[(47, 281), (100, 663), (642, 752)],
              [(47, 1191), (100, 1569), (642, 1665)],
              [(849, 649), (1006, 1320), (1662, 1455)]]:
    for (px, py), txt, rot in zip(names, ['z [m]', 'x [m]', 'y [m]'], [90, -60, 16]):
        fig.text(px / W, 1 - py / H, txt, fontsize=44, color=INK, rotation=rot,
                 ha='center', va='center', rotation_mode='anchor')

for txt, px, py in [('a', 613, 535), ('b', 603, 1445), ('c', 1783, 1120)]:
    fig.text(px / W, 1 - py / H, txt, fontsize=50, color='red', fontweight='bold',
             family='Liberation Serif', ha='center', va='center')

cax = fig.add_axes([2035 / W, 1 - 1217 / H, 63 / W, 929 / H])
cbar = fig.colorbar(ScalarMappable(norm=norm, cmap=jet), cax=cax, ticks=sv_limits)
cbar.ax.tick_params(length=0, labelsize=38, labelcolor=INK, pad=18)
cbar.outline.set_edgecolor(INK)
cbar.outline.set_linewidth(2)
fig.text(2080 / W, 1 - 1293 / H, 'Sv', fontsize=44, color='black', fontweight='bold',
         family='Liberation Serif', ha='center', va='center')

fig.savefig('out.png', dpi=100)
